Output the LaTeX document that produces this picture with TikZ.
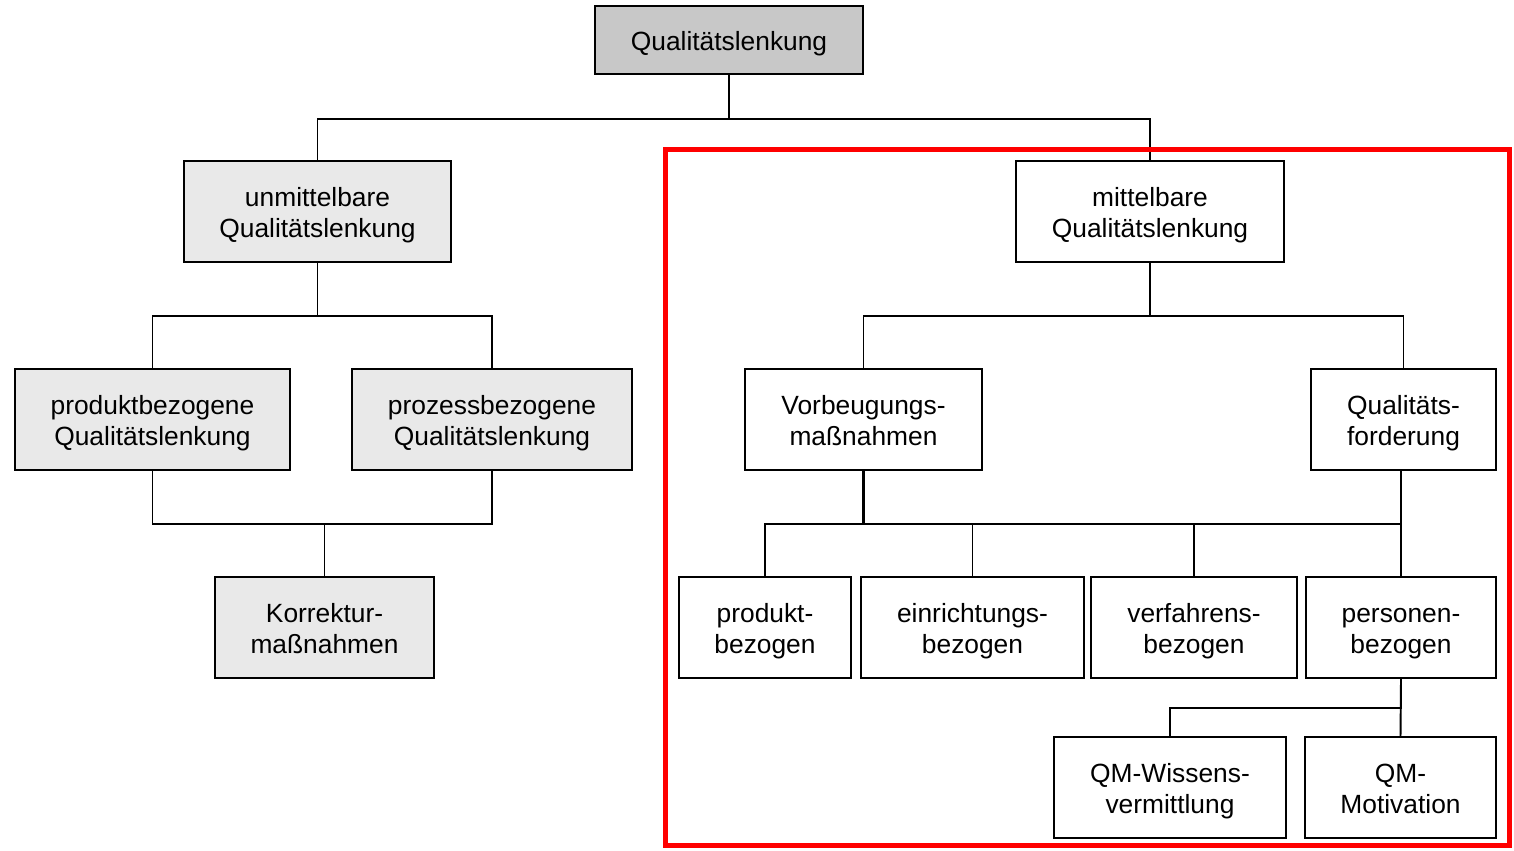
\documentclass[tikz,border=0pt]{standalone}
\usepackage{fontspec}
\setmainfont{Liberation Sans}
\definecolor{topgray}{RGB}{200,200,200}
\definecolor{lightgray}{RGB}{233,233,233}
\newcommand\topstrut{\rule{0pt}{15pt}}
\newcommand\botstrut{\rule[-3pt]{0pt}{3pt}}
\begin{document}
\begin{tikzpicture}[x=0.02cm,y=-0.02cm,
  box/.style={draw=black, line width=1.1pt, inner sep=0pt, align=center,
    font=\fontsize{15}{17.5}\selectfont, minimum height=2.02cm},
  gbox/.style={box, fill=lightgray},
  conn/.style={draw=black, line width=1.1pt},
  thickconn/.style={draw=black, line width=1.6pt}]
\useasboundingbox (0,0) rectangle (1514,850);
% nodes
\node[box, fill=topgray, minimum width=5.36cm, minimum height=1.36cm] (top) at (729,40) {\topstrut Qualitätslenkung\botstrut};
\node[gbox, minimum width=5.34cm] (unm) at (317.5,211.5) {\topstrut unmittelbare\\Qualitätslenkung\botstrut};
\node[box, minimum width=5.36cm] (mitt) at (1150,211.5) {\topstrut mittelbare\\Qualitätslenkung\botstrut};
\node[gbox, minimum width=5.5cm] (prodq) at (152.5,419.5) {\topstrut produktbezogene\\Qualitätslenkung\botstrut};
\node[gbox, minimum width=5.6cm] (prozq) at (492,419.5) {\topstrut prozessbezogene\\Qualitätslenkung\botstrut};
\node[gbox, minimum width=4.38cm] (korr) at (324.5,627.5) {\topstrut Korrektur-\\maßnahmen\botstrut};
\node[box, minimum width=4.74cm] (vorb) at (863.5,419.5) {\topstrut Vorbeugungs-\\maßnahmen\botstrut};
\node[box, minimum width=3.7cm] (qf) at (1403.5,419.5) {\topstrut Qualitäts-\\forderung\botstrut};
\node[box, minimum width=3.44cm] (pb) at (765,627.5) {\topstrut produkt-\\bezogen\botstrut};
\node[box, minimum width=4.46cm] (eb) at (972.5,627.5) {\topstrut einrichtungs-\\bezogen\botstrut};
\node[box, minimum width=4.12cm] (vb) at (1194,627.5) {\topstrut verfahrens-\\bezogen\botstrut};
\node[box, minimum width=3.8cm] (perb) at (1401,627.5) {\topstrut personen-\\bezogen\botstrut};
\node[box, minimum width=4.64cm] (qmw) at (1170,787.5) {\topstrut QM-Wissens-\\vermittlung\botstrut};
\node[box, minimum width=3.82cm] (qmm) at (1400.5,787.5) {\topstrut QM-\\Motivation\botstrut};
% connectors
\draw[conn] (top.south) -- ++(0,44) -| (unm.north);
\draw[conn] (top.south) -- ++(0,44) -| (mitt.north);
\draw[conn] (unm.south) -- ++(0,53) -| (prodq.north);
\draw[conn] (unm.south) -- ++(0,53) -| (prozq.north);
\draw[conn] (prodq.south) -- ++(0,53) -| (korr.north);
\draw[conn] (prozq.south) -- ++(0,53) -| (korr.north);
\draw[conn] (mitt.south) -- ++(0,53) -| (vorb.north);
\draw[conn] (mitt.south) -- ++(0,53) -| (qf.north);
\draw[thickconn] (vorb.south) -- ++(0,53);
\draw[conn] (vorb.south) -- ++(0,53) -| (pb.north);
\draw[conn] (vorb.south) -- ++(0,53) -| (eb.north);
\draw[conn] (vorb.south) -- ++(0,53) -| (vb.north);
\draw[conn] (vorb.south) -- ++(0,53) -| (perb.north);
\draw[conn] (qf.south -| perb.north) -- ++(0,78);
\draw[conn] (perb.south) -- ++(0,29) -| (qmw.north);
\draw[conn] (perb.south) -- (qmm.north);
% red frame
\draw[red, line width=2.85pt] (665.5,149.5) rectangle (1509.5,845.5);
\end{tikzpicture}
\end{document}
